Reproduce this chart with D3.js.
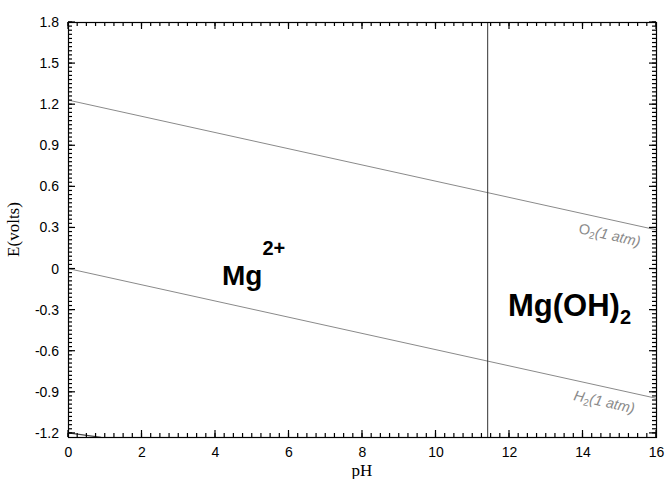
<!DOCTYPE html>
<html>
<head>
<meta charset="utf-8">
<script src="https://cdn.jsdelivr.net/npm/d3@7"></script>
<style>
  body { margin: 0; background: #fff; }
  svg { display: block; }
</style>
</head>
<body>
<svg id="chart" width="671" height="479"></svg>
<script>
// ---- data ----
const xTicks = [0, 2, 4, 6, 8, 10, 12, 14, 16];
const yTicks = [1.8, 1.5, 1.2, 0.9, 0.6, 0.3, 0, -0.3, -0.6, -0.9, -1.2];
const yTickLabels = ["1.8", "1.5", "1.2", "0.9", "0.6", "0.3", "0", "-0.3", "-0.6", "-0.9", "-1.2"];
const o2Line = [[0, 1.23], [16, 0.283]];      // O2(1 atm) water stability line
const h2Line = [[0, 0.0], [16, -0.947]];      // H2(1 atm) water stability line
const boundaryPH = [[11.42, 1.8], [11.42, -1.23]]; // Mg2+ / Mg(OH)2 boundary
const cornerLine = [[0, -1.2], [0.9, -1.232]]; // short line at lower-left corner

// ---- layout ----
const svg = d3.select("#chart");
const L = 68, R = 656, T = 22, B = 437;
const x = d3.scaleLinear().domain([0, 16]).range([L, R]);
const y = d3.scaleLinear().domain([-1.23, 1.8]).range([B, T]);

svg.append("defs").append("clipPath").attr("id", "plotclip")
  .append("rect").attr("x", L).attr("y", T).attr("width", R - L).attr("height", B - T);

const line = d3.line().x(d => x(d[0])).y(d => y(d[1]));
const g = svg.append("g").attr("clip-path", "url(#plotclip)");

g.append("path").datum(o2Line).attr("d", line).attr("fill", "none").attr("stroke", "#8a8a8a").attr("stroke-width", 1);
g.append("path").datum(h2Line).attr("d", line).attr("fill", "none").attr("stroke", "#8a8a8a").attr("stroke-width", 1);
g.append("path").datum(boundaryPH).attr("d", line).attr("fill", "none").attr("stroke", "#333").attr("stroke-width", 1);
g.append("path").datum(cornerLine).attr("d", line).attr("fill", "none").attr("stroke", "#444").attr("stroke-width", 1.3);

// ---- ticks (inward on all four sides) ----
const xMinor = d3.range(0, 16.001, 0.25);
const yMinor = d3.range(-1.2, 1.8001, 0.03);
const tickG = svg.append("g").attr("class", "ticks");
function hTicks(vals, len, w) {
  [[B, -1], [T, 1]].forEach(([base, dir]) => {
    tickG.selectAll(null).data(vals).enter().append("line")
      .attr("x1", d => x(d)).attr("x2", d => x(d))
      .attr("y1", base).attr("y2", base + dir * len)
      .style("stroke", "#000").style("stroke-width", w + "px");
  });
}
function vTicks(vals, len, w) {
  [[L, 1], [R, -1]].forEach(([base, dir]) => {
    tickG.selectAll(null).data(vals).enter().append("line")
      .attr("y1", d => y(d)).attr("y2", d => y(d))
      .attr("x1", base).attr("x2", base + dir * len)
      .style("stroke", "#000").style("stroke-width", w + "px");
  });
}
hTicks(xMinor, 4, 1.2); hTicks(xTicks, 7, 1.2);
vTicks(yMinor, 4, 1.2); vTicks(yTicks, 7, 1.2);

// tick labels via d3 axes
const xb = svg.append("g").attr("transform", `translate(0,${B})`)
  .call(d3.axisBottom(x).tickValues(xTicks).tickSize(0).tickPadding(10).tickFormat(d3.format("d")));
xb.select(".domain").remove();
xb.selectAll("text").attr("font-family", "Arial, 'Liberation Sans', sans-serif").attr("font-size", 14).attr("fill", "#000");
const yl = svg.append("g").attr("transform", `translate(${L},0)`)
  .call(d3.axisLeft(y).tickValues(yTicks).tickSize(0).tickPadding(9).tickFormat((d, i) => yTickLabels[i]));
yl.select(".domain").remove();
yl.selectAll("text").attr("font-family", "Arial, 'Liberation Sans', sans-serif").attr("font-size", 14).attr("fill", "#000");

// frame
svg.append("rect").attr("x", L + 0.5).attr("y", T + 0.5).attr("width", R - L).attr("height", B - T)
  .attr("fill", "none").attr("stroke", "#000").attr("stroke-width", 1.2);

// axis titles
svg.append("text").attr("x", (L + R) / 2).attr("y", 476).attr("text-anchor", "middle")
  .attr("font-family", "'Liberation Serif', 'Times New Roman', serif").attr("font-size", 17).text("pH");
svg.append("text").attr("transform", `translate(19,${(T + B) / 2}) rotate(-90)`).attr("text-anchor", "middle")
  .attr("font-family", "'Liberation Serif', 'Times New Roman', serif").attr("font-size", 17).text("E(volts)");

// region labels
const bold = "Arial, 'Liberation Sans', sans-serif";
const t1 = svg.append("text").attr("x", 222).attr("y", 285).attr("font-family", bold).attr("font-weight", "bold").attr("font-size", 28).attr("fill", "#000");
t1.append("tspan").text("Mg");
t1.append("tspan").attr("font-size", 20).attr("dy", -30).text("2+");

const t2 = svg.append("text").attr("x", 508).attr("y", 316).attr("font-family", bold).attr("font-weight", "bold").attr("font-size", 31).attr("fill", "#000");
t2.append("tspan").text("Mg(OH)");
t2.append("tspan").attr("font-size", 20).attr("dy", 8).text("2");

// line labels, rotated along the lines
const ang = Math.atan2(y(o2Line[1][1]) - y(o2Line[0][1]), x(o2Line[1][0]) - x(o2Line[0][0])) * 180 / Math.PI;
function lineLabel(px, py, main, mainItalic) {
  const t = svg.append("text").attr("transform", `translate(${px},${py}) rotate(${ang})`)
    .attr("font-family", bold).attr("font-size", 14.5).attr("fill", "#8a8a8a");
  t.append("tspan").attr("font-style", mainItalic ? "italic" : "normal").text(main);
  t.append("tspan").attr("font-size", 10).attr("dy", 3).text("2");
  t.append("tspan").attr("font-style", "italic").attr("dy", -3).text("(1 atm)");
}
lineLabel(578, 233, "O", false);
lineLabel(573, 400, "H", true);
</script>
</body>
</html>
